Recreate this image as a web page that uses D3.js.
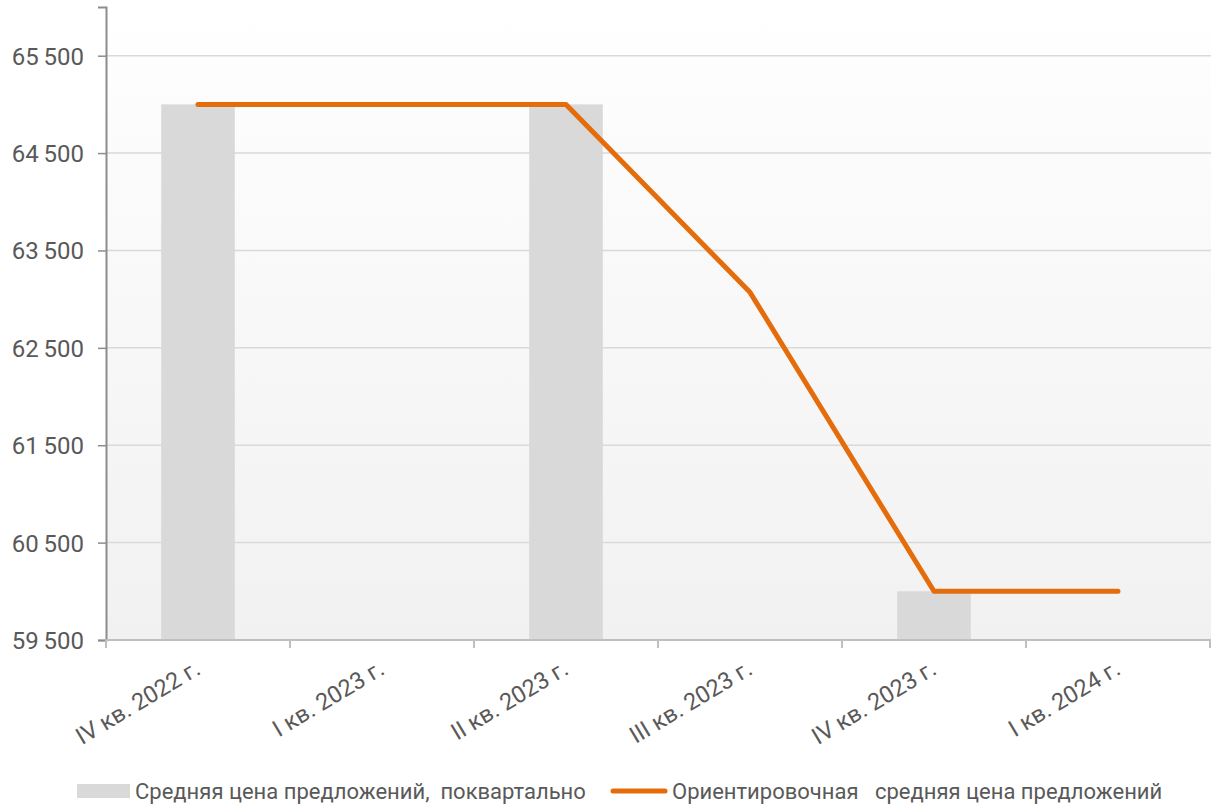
<!DOCTYPE html>
<html>
<head>
<meta charset="utf-8">
<script src="https://cdn.jsdelivr.net/npm/d3@7"></script>
<style>
  body { margin: 0; background: #fff; }
  text { font-family: Roboto, "Open Sans", sans-serif; fill: #595959; }
</style>
</head>
<body>
<div id="app"></div>
<script>
// chart data
const quarters = ["IV кв. 2022 г.", "I кв. 2023 г.", "II кв. 2023 г.", "III кв. 2023 г.", "IV кв. 2023 г.", "I кв. 2024 г."];
const avgPrice = [65000, null, 65000, null, 60000, null];
const estPrice = [65000, 65000, 65000, 63070, 60000, 60000];
const yTicks = [59500, 60500, 61500, 62500, 63500, 64500, 65500];
const legendLabels = ["Средняя цена предложений,  поквартально", "Ориентировочная   средняя цена предложений"];

const width = 1211;
const height = 807;
const plotLeft = 106, plotRight = 1210, plotTop = 7, plotBottom = 640;

const svg = d3.select("#app")
  .append("svg")
  .attr("width", width)
  .attr("height", height);

// background gradient of the plot area
const grad = svg.append("defs").append("linearGradient")
  .attr("id", "bg").attr("x1", 0).attr("y1", 0).attr("x2", 0).attr("y2", 1);
grad.append("stop").attr("offset", "0%").attr("stop-color", "#ffffff");
grad.append("stop").attr("offset", "12%").attr("stop-color", "#fdfdfd");
grad.append("stop").attr("offset", "100%").attr("stop-color", "#f1f1f1");

svg.append("rect")
  .attr("x", plotLeft).attr("y", plotTop)
  .attr("width", width - plotLeft).attr("height", plotBottom - plotTop)
  .attr("fill", "url(#bg)");

const x = d3.scaleBand().domain(quarters).range([plotLeft, plotRight]);
const y = d3.scaleLinear().domain([59500, 66000]).range([plotBottom, plotTop]);

// gridlines
svg.append("g")
  .selectAll("line")
  .data(yTicks)
  .join("line")
  .attr("x1", plotLeft).attr("x2", width)
  .attr("y1", d => y(d)).attr("y2", d => y(d))
  .attr("stroke", "#d9d9d9")
  .attr("stroke-width", 1.5);

// bars
svg.append("g")
  .selectAll("rect")
  .data(quarters.map((q, i) => ({ q, v: avgPrice[i] })).filter(d => d.v != null))
  .join("rect")
  .attr("x", d => x(d.q) + x.bandwidth() * 0.3)
  .attr("width", x.bandwidth() * 0.4)
  .attr("y", d => y(d.v))
  .attr("height", d => y(59500) - y(d.v))
  .attr("fill", "#d9d9d9");

// y axis
const fmt = d => d3.format(",")(d).replace(",", "\u2009");
const yAxis = svg.append("g")
  .attr("transform", `translate(${plotLeft},0)`)
  .call(d3.axisLeft(y).tickValues(yTicks).tickSize(8).tickPadding(14).tickFormat(fmt));
yAxis.select(".domain").attr("stroke", "#8c8c8c").attr("stroke-width", 2);
yAxis.selectAll(".tick line").attr("stroke", "#8c8c8c").attr("stroke-width", 1.5);
yAxis.selectAll(".tick text")
  .attr("font-size", 24)
  .attr("fill", "#595959")
  .attr("font-family", "Roboto, sans-serif")
  .attr("dy", "0.35em");

// x axis
const xAxis = svg.append("g")
  .attr("transform", `translate(0,${plotBottom})`);
xAxis.append("line")
  .attr("x1", plotLeft).attr("x2", width)
  .attr("stroke", "#bfbfbf").attr("stroke-width", 2);
xAxis.selectAll(".xt")
  .data(quarters.concat([null]))
  .join("line")
  .attr("class", "xt")
  .attr("x1", (d, i) => i < quarters.length ? x(d) : plotRight)
  .attr("x2", (d, i) => i < quarters.length ? x(d) : plotRight)
  .attr("y1", 0).attr("y2", 8)
  .attr("stroke", "#bfbfbf").attr("stroke-width", 2);
xAxis.selectAll("text")
  .data(quarters)
  .join("text")
  .attr("text-anchor", "end")
  .attr("font-size", 23.5)
  .attr("transform", d => `translate(${x(d) + x.bandwidth() / 2 + 4},${33}) rotate(-31)`)
  .text(d => d);

// estimated line
const line = d3.line()
  .x((d, i) => x(quarters[i]) + x.bandwidth() / 2)
  .y(d => y(d));
svg.append("path")
  .datum(estPrice)
  .attr("d", line)
  .attr("fill", "none")
  .attr("stroke", "#e46c0a")
  .attr("stroke-width", 5)
  .attr("stroke-linecap", "round")
  .attr("stroke-linejoin", "round");

// legend
const legend = svg.append("g").attr("transform", "translate(0,791)");
legend.append("rect")
  .attr("x", 77).attr("y", -7).attr("width", 53).attr("height", 14)
  .attr("fill", "#d9d9d9");
legend.append("text")
  .attr("x", 135).attr("dy", "0.35em")
  .attr("font-size", 22)
  .style("white-space", "pre")
  .text(legendLabels[0]);
legend.append("line")
  .attr("x1", 613).attr("x2", 665)
  .attr("stroke", "#e46c0a").attr("stroke-width", 5)
  .attr("stroke-linecap", "round");
legend.append("text")
  .attr("x", 672).attr("dy", "0.35em")
  .attr("font-size", 22)
  .style("white-space", "pre")
  .text(legendLabels[1]);
</script>
</body>
</html>
